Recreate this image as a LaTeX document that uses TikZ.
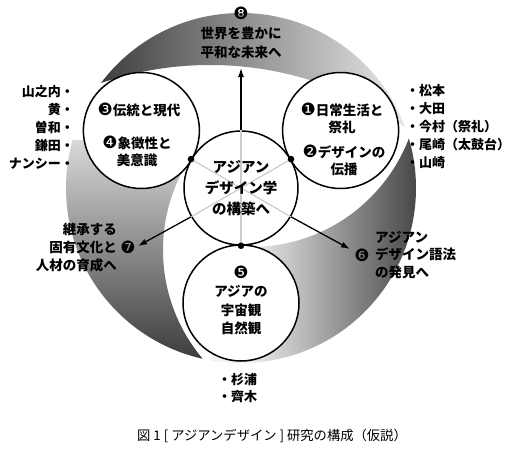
\documentclass[tikz,border=0pt]{standalone}
\usepackage{fontspec}
\usepackage{tikz}
\usetikzlibrary{arrows.meta}
\newfontfamily\jp{Noto Sans CJK JP}
\newfontfamily\dingfont{DejaVu Sans}
\newcommand\cnum[1]{{\dingfont\mdseries\fontsize{17}{17}\selectfont #1}}

\begin{document}
\begin{tikzpicture}[x=1pt,y=-1pt,
  ring/.style={circle,draw,line width=1.5pt,fill=white,minimum size=116pt,inner sep=0pt},
  lbl/.style={inner sep=0pt,align=center,font=\jp\bfseries\fontsize{13.5}{17}\selectfont},
  names/.style={inner sep=0pt,font=\jp\bfseries\fontsize{13}{18}\selectfont},
  arr/.style={line width=1.3pt,-{Latex[length=9pt,width=6pt]}},
  spoke/.style={line width=1.2pt,black!20}]
  \useasboundingbox (0,0) rectangle (515,450);
  \coordinate (O) at (241,188);
  \coordinate (tip8) at (241,68);
  \coordinate (tip7) at (138,246);
  \coordinate (tip6) at (350,249);
  \begin{scope}
    \clip (O) circle (175);
    \clip (546,401) arc[start angle=0,end angle=360,radius=336]
      (0,0) -- (0,450) -- (515,450) -- (515,0) -- cycle;
    \shade[left color=black!78, right color=black!8] (89,10) rectangle (408,150);
  \end{scope}
  \begin{scope}
    \clip (O) circle (175);
    \clip (420,78) arc[start angle=0,end angle=360,radius=169]
      (0,0) -- (0,450) -- (515,450) -- (515,0) -- cycle;
    \clip (241,0) -- (241,245) -- (205,380) -- (515,380) -- (515,0) -- cycle;
    \fill[black!5] (200,120) rectangle (246,365);
    \shade[left color=black!5, right color=black!72] (245,120) rectangle (417,365);
  \end{scope}
  \begin{scope}
    \clip (O) circle (175);
    \clip (501,250) arc[start angle=0,end angle=360,radius=169]
      (0,0) -- (0,450) -- (515,450) -- (515,0) -- cycle;
    \clip (O) -- (-105,-12) -- (-105,450) -- (241,450) -- cycle;
    \shade[top color=black!15, bottom color=black!78] (60,140) rectangle (242,365);
  \end{scope}
  \node[ring] (c1) at (340.6,130.5) {};
  \node[ring] (c3) at (141.4,130.5) {};
  \node[ring] (c5) at (241,303) {};
  \node[ring,minimum size=114pt] (hub) at (O) {};
  \draw[spoke] (hub.90) -- (hub.270);
  \draw[spoke] (hub.150) -- (hub.330);
  \draw[spoke] (hub.30) -- (hub.210);
  \draw[arr] (hub.90) -- (tip8);
  \draw[arr] (hub.210) -- (tip7);
  \draw[arr] (hub.330) -- (tip6);
  \fill (hub.150) circle (3.3);
  \fill (hub.30) circle (3.3);
  \fill (hub.270) circle (3.3);
  \node[lbl,font=\jp\bfseries\fontsize{13.5}{19}\selectfont] (goal8) at (241,33) {\cnum{❽}\\世界を豊かに\\平和な未来へ};
  \node[lbl] (t3a) at (139,110) {\cnum{❸}伝統と現代};
  \node[lbl] (t3b) at (137,151) {\cnum{❹}象徴性と\\美意識};
  \node[lbl] (t1a) at (342,118.5) {\cnum{❶}日常生活と\\祭礼};
  \node[lbl] (t1b) at (344,160.5) {\cnum{❷}デザインの\\伝播};
  \node[lbl,font=\jp\bfseries\fontsize{14.5}{21}\selectfont] (t0) at (241,188) {アジアン\\デザイン学\\の構築へ};
  \node[lbl,font=\jp\bfseries\fontsize{13.5}{18.5}\selectfont] (t5) at (241,300.5) {\cnum{❺}\\アジアの\\宇宙観\\自然観};
  \node[lbl] (n7) at (128,247) {\cnum{❼}};
  \node[lbl,align=right,anchor=east,font=\jp\bfseries\fontsize{13.5}{18}\selectfont] (goal7) at (117,247) {継承する\\固有文化と\\人材の育成へ};
  \node[lbl] (n6) at (362,255) {\cnum{❻}};
  \node[lbl,align=left,anchor=west,font=\jp\bfseries\fontsize{13.5}{17.5}\selectfont] (goal6) at (375,255) {アジアン\\デザイン語法\\の発見へ};
  \node[names,align=right,anchor=east] (namesL) at (74,127) {山之内・\\黄・\\曽和・\\鎌田・\\ナンシー・};
  \node[names,align=left,anchor=west] (namesR) at (406,127) {・松本\\・大田\\・今村（祭礼）\\・尾崎（太鼓台）\\・山崎};
  \node[names,align=left,anchor=west,font=\jp\bfseries\fontsize{13}{17}\selectfont] (namesB) at (218,388.5) {・杉浦\\・齊木};
  \node[inner sep=0pt,font=\jp\fontsize{13.3}{16}\selectfont] (caption) at (272,436) {図 1 [ アジアンデザイン ] 研究の構成（仮説）};
\end{tikzpicture}
\end{document}
